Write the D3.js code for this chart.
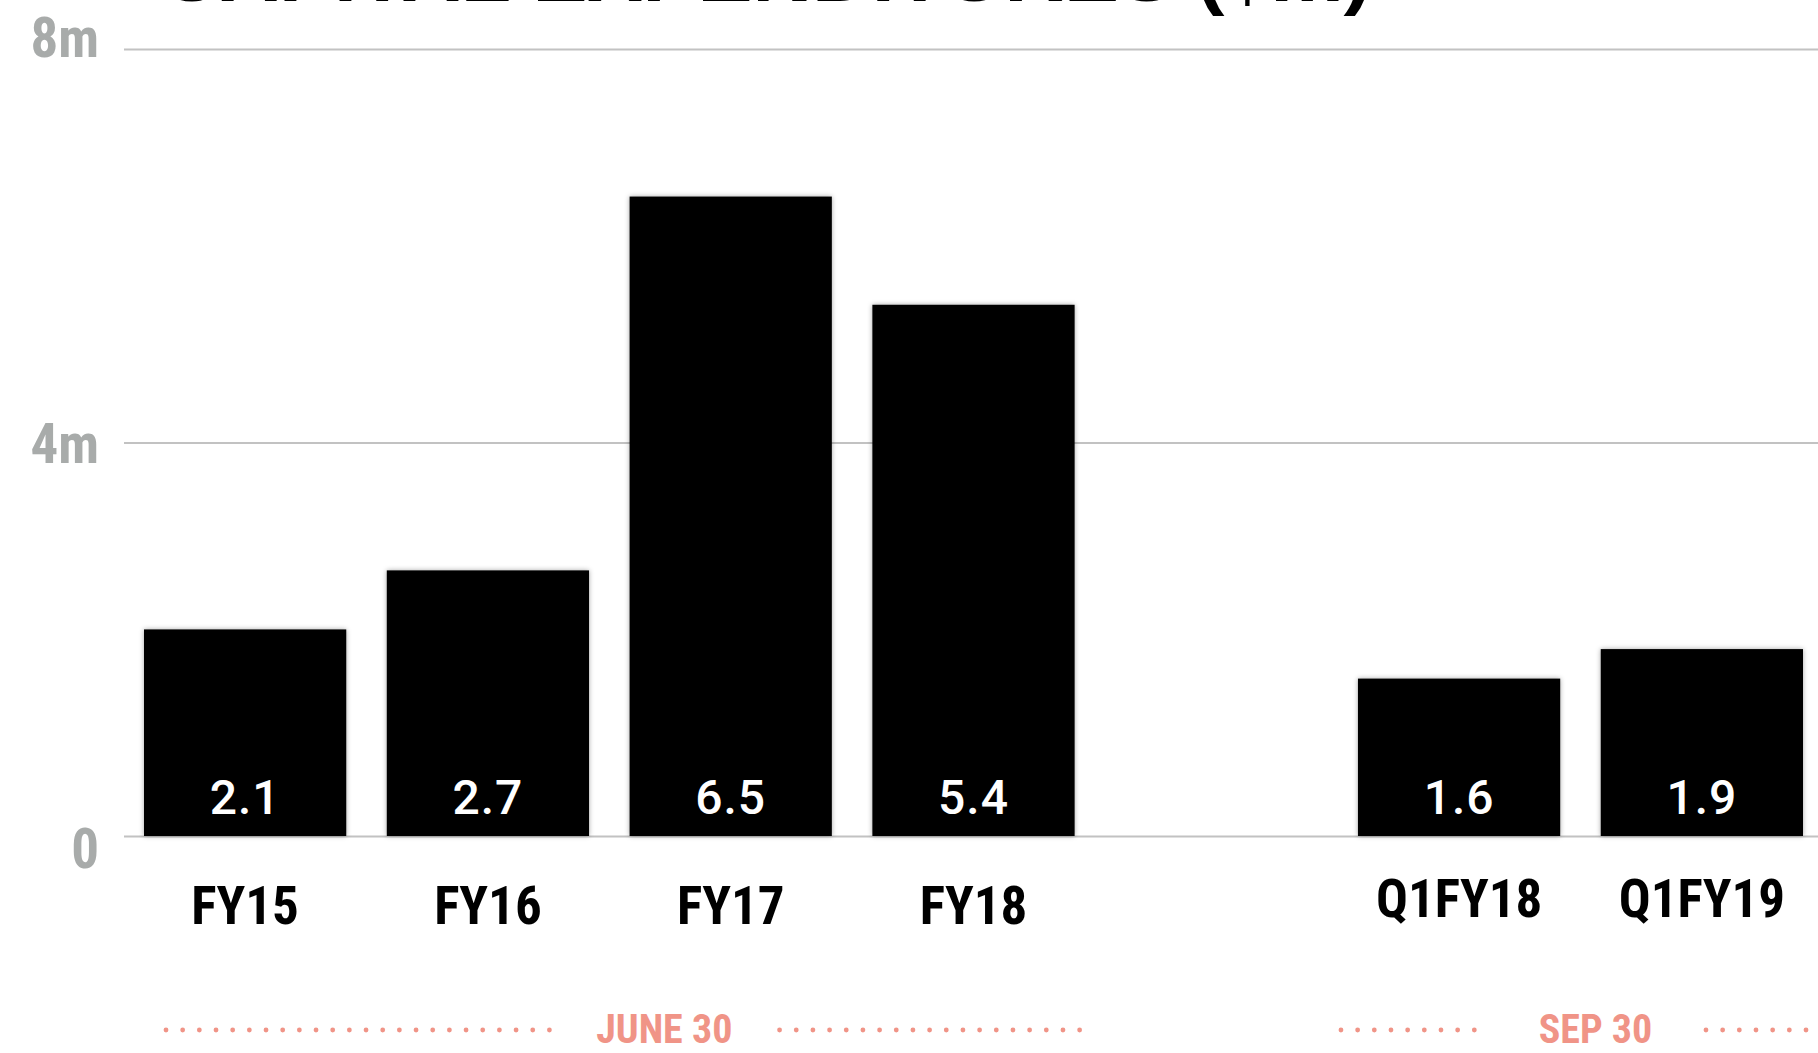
<!DOCTYPE html>
<html>
<head>
<meta charset="utf-8">
<script src="https://cdn.jsdelivr.net/npm/d3@7"></script>
<style>
  html, body { margin: 0; padding: 0; background: #ffffff; overflow: hidden; }
  svg { display: block; }
  .narrow { font-family: "Liberation Sans Narrow", "Roboto Condensed", "Arial Narrow", "Liberation Sans", sans-serif; font-stretch: condensed; }
</style>
</head>
<body>
<svg id="chart" width="1818" height="1053"></svg>
<script>
// Capital expenditures, $m
const annualLabels = ["FY15", "FY16", "FY17", "FY18"];
const annualValues = [2.1, 2.7, 6.5, 5.4];
const quarterLabels = ["Q1FY18", "Q1FY19"];
const quarterValues = [1.6, 1.9];
const yTickValues = [0, 4, 8];
const yTickLabels = ["0", "4m", "8m"];
const periodLabels = ["JUNE 30", "SEP 30"];
const titleText = "CAPITAL EXPENDITURES ($m)";

const W = 1818, H = 1053;
const svg = d3.select("#chart");

// One empty slot separates the annual bars from the quarterly ones
const gapKey = "__gap";
const slots = [...annualLabels, gapKey, ...quarterLabels];
const bars = [
  ...annualLabels.map((k, i) => ({ key: k, value: annualValues[i] })),
  ...quarterLabels.map((k, i) => ({ key: k, value: quarterValues[i] }))
];

const x = d3.scaleBand().domain(slots).range([144, 1803]).paddingInner(0.167).paddingOuter(0);
const y = d3.scaleLinear().domain([0, 8]).range([836, 49]);
// tick labels sit on a slightly looser spacing than the grid lines
const yLabel = d3.scaleLinear().domain([0, 8]).range([868, 57]);

// shadow for the bars
const defs = svg.append("defs");
const f = defs.append("filter").attr("id", "barShadow")
  .attr("x", "-10%").attr("y", "-10%").attr("width", "120%").attr("height", "120%");
f.append("feDropShadow").attr("dx", 0).attr("dy", 0).attr("stdDeviation", 2.5)
  .attr("flood-color", "#000").attr("flood-opacity", 0.35);

// title (runs off the top edge)
svg.append("text")
  .attr("x", 160).attr("y", 1)
  .attr("textLength", 1211).attr("lengthAdjust", "spacingAndGlyphs")
  .attr("font-family", "Liberation Sans, Arial, sans-serif")
  .attr("font-weight", 700).attr("font-size", 72).attr("fill", "#000")
  .text(titleText);

// grid lines
const yAxis = d3.axisLeft(y).tickValues(yTickValues).tickSize(-(W - 124)).tickFormat("");
const gy = svg.append("g").attr("transform", "translate(124,0)").call(yAxis);
gy.select(".domain").remove();
gy.selectAll(".tick line").attr("stroke", "#c2c2c2").attr("stroke-width", 2);

// y tick labels
svg.append("g").selectAll("text").data(yTickValues).join("text")
  .attr("class", "narrow")
  .attr("x", 99).attr("y", d => yLabel(d))
  .attr("text-anchor", "end")
  .attr("font-size", 55).attr("font-weight", 700).attr("fill", "#a8abaa")
  .text((d, i) => yTickLabels[i]);

// bars
svg.append("g").selectAll("rect").data(bars).join("rect")
  .attr("x", d => x(d.key)).attr("width", x.bandwidth())
  .attr("y", d => y(d.value)).attr("height", d => y(0) - y(d.value))
  .attr("fill", "#000").attr("filter", "url(#barShadow)");

// value labels inside bars
svg.append("g").selectAll("text").data(bars).join("text")
  .attr("x", d => x(d.key) + x.bandwidth() / 2).attr("y", 814)
  .attr("text-anchor", "middle")
  .attr("font-family", "Roboto, 'Liberation Sans', sans-serif")
  .attr("font-weight", 500).attr("font-size", 48).attr("letter-spacing", 1)
  .attr("fill", "#fff")
  .text(d => d.value.toFixed(1));

// category labels
svg.append("g").selectAll("text").data(bars).join("text")
  .attr("class", "narrow")
  .attr("x", d => x(d.key) + x.bandwidth() / 2)
  .attr("y", d => quarterLabels.includes(d.key) ? 917 : 924)
  .attr("text-anchor", "middle")
  .attr("font-size", 53).attr("font-weight", 700).attr("fill", "#000")
  .text(d => d.key);

// period annotations with dotted leaders
const salmon = "#f09487";
const groups = [
  { label: periodLabels[0], keys: annualLabels, lead: 22, tail: 5, shift: 55, gap: 37 },
  { label: periodLabels[1], keys: quarterLabels, lead: -17, tail: 3, shift: 15, gap: 53 }
];
const dotStep = 16.67, dotY = 1030;
groups.forEach(g => {
  const x0 = x(g.keys[0]);
  const x1 = x(g.keys[g.keys.length - 1]) + x.bandwidth();
  const cx = (x0 + x1) / 2 + g.shift;
  const t = svg.append("text")
    .attr("class", "narrow")
    .attr("x", cx).attr("y", 1043)
    .attr("text-anchor", "middle")
    .attr("font-size", 40).attr("font-weight", 700).attr("fill", salmon)
    .text(g.label);
  const tw = t.node().getComputedTextLength();
  const from = x0 + g.lead, to = x1 + g.tail;
  const dots = [];
  for (let p = from; p <= cx - tw / 2 - g.gap; p += dotStep) dots.push(p);
  for (let p = to; p >= cx + tw / 2 + g.gap; p -= dotStep) dots.push(p);
  svg.append("g").selectAll("circle").data(dots).join("circle")
    .attr("cx", d => d).attr("cy", dotY).attr("r", 2.4).attr("fill", salmon);
});
</script>
</body>
</html>
